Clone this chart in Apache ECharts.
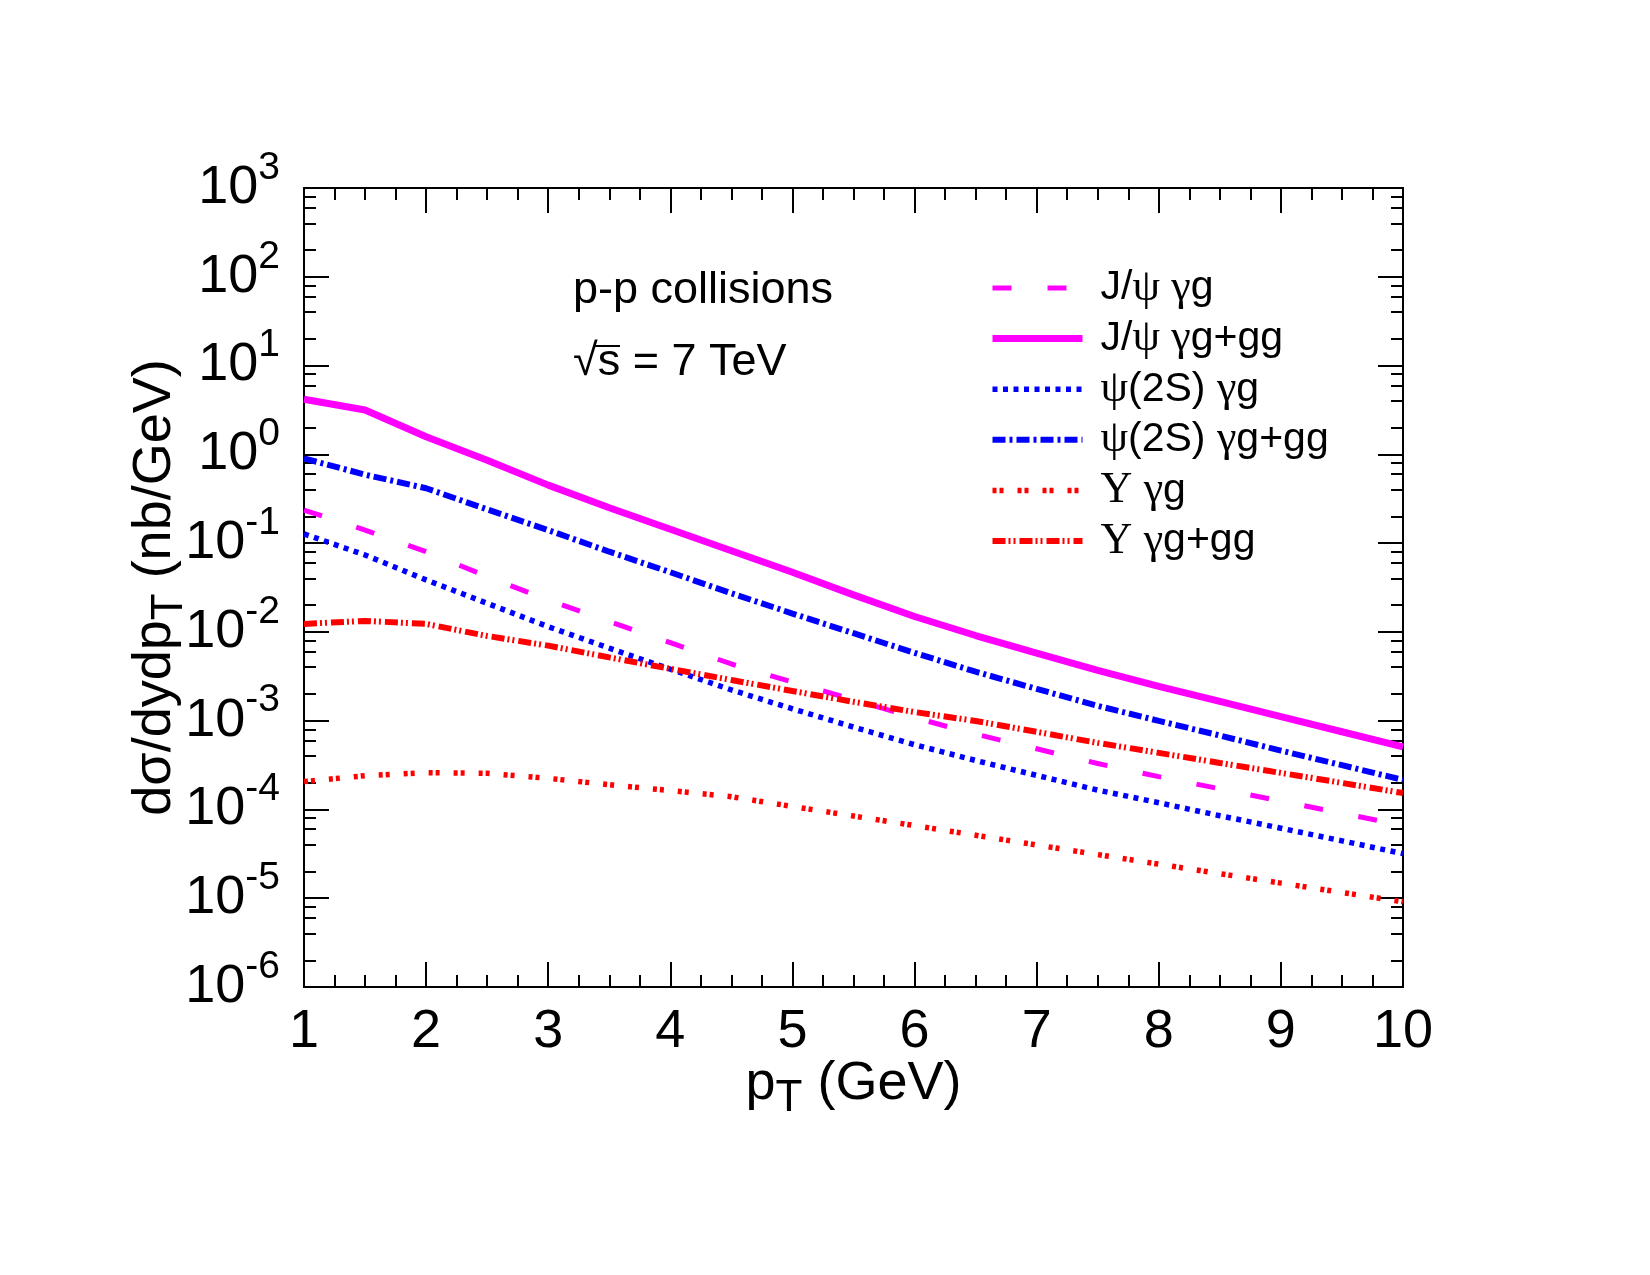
<!DOCTYPE html>
<html>
<head>
<meta charset="utf-8">
<script src="https://cdn.jsdelivr.net/npm/echarts@6/dist/echarts.min.js"></script>
<style>
  html, body { margin: 0; padding: 0; background: #fff; }
  #chart { width: 1650px; height: 1275px; }
</style>
</head>
<body>
<div id="chart"></div>
<script>
// pT grid (GeV)
const pT = [1, 1.5, 2, 2.5, 3, 3.5, 4, 4.5, 5, 5.5, 6, 6.5, 7, 7.5, 8, 8.5, 9, 9.5, 10];

// dsigma/dy dpT (nb/GeV)
const jpsiGammaG = [0.236, 0.14, 0.080, 0.042, 0.0228, 0.0131, 0.00755, 0.00435, 0.00272, 0.00172, 0.00108,
  7.05e-4, 4.82e-4, 3.29e-4, 2.34e-4, 1.71e-4, 1.24e-4, 9.06e-5, 6.6e-5];
const jpsiTotal = [4.17, 3.16, 1.58, 0.86, 0.45, 0.25, 0.143, 0.082, 0.047, 0.0261, 0.0149,
  0.0091, 0.00575, 0.00368, 0.00244, 0.00165, 0.00111, 7.5e-4, 5.06e-4];
const psi2sGammaG = [0.127, 0.0735, 0.0385, 0.021, 0.01145, 0.00656, 0.0038, 0.00222, 0.00136, 8.47e-4, 5.36e-4,
  3.56e-4, 2.42e-4, 1.65e-4, 1.19e-4, 8.5e-5, 6.15e-5, 4.43e-5, 3.18e-5];
const psi2sTotal = [0.90, 0.59, 0.415, 0.24, 0.14, 0.080, 0.047, 0.0272, 0.0161, 0.00966, 0.0058,
  0.00356, 0.00228, 0.00147, 9.95e-4, 6.8e-4, 4.6e-4, 3.15e-4, 2.15e-4];
const upsGammaG = [2.06e-4, 2.4e-4, 2.6e-4, 2.55e-4, 2.24e-4, 1.9e-4, 1.63e-4, 1.39e-4, 1.08e-4, 8.43e-5, 6.58e-5,
  5.12e-5, 3.98e-5, 3.1e-5, 2.42e-5, 1.89e-5, 1.48e-5, 1.16e-5, 9.1e-6];
const upsTotal = [0.0123, 0.0133, 0.0123, 0.0090, 0.0070, 0.00516, 0.00384, 0.00287, 0.00216, 0.00163, 0.00125,
  9.93e-4, 7.48e-4, 5.62e-4, 4.34e-4, 3.34e-4, 2.58e-4, 1.99e-4, 1.53e-4];

// axis ticks
const yExponents = [-6, -5, -4, -3, -2, -1, 0, 1, 2, 3];
const yMinorMantissas = [2, 4, 6, 8];

const seriesNames = ['J/ψ γg', 'J/ψ γg+gg', 'ψ(2S) γg', 'ψ(2S) γg+gg', 'Υ γg', 'Υ γg+gg'];

const chart = echarts.init(document.getElementById('chart'));

const yMinorTicks = [];
yExponents.slice(0, -1).forEach(e => {
  yMinorMantissas.forEach(m => yMinorTicks.push(e + Math.log10(m)));
});

const SANS = '"Liberation Sans", Arial, Helvetica, sans-serif';
const SERIF = '"Liberation Serif", "Times New Roman", serif';

// greek letters in the legend come from a symbol (serif) face
function legendRich(name) {
  let out = '';
  for (const ch of name) {
    if ('ψγΥ'.includes(ch)) out += '{g|' + ch + '}';
    else out += '{t|' + ch + '}';
  }
  return out;
}

function pairs(arr) {
  return pT.map((x, i) => [x, arr[i]]);
}

const styles = [
  { color: '#ff00ff', width: 5, type: [19, 36] },
  { color: '#ff00ff', width: 7, type: 'solid' },
  { color: '#0000ff', width: 5.5, type: [5, 5.5] },
  { color: '#0000ff', width: 6, type: [13, 4, 3, 4] },
  { color: '#ff0000', width: 5.5, type: [4, 3, 4, 14] },
  { color: '#ff0000', width: 6, type: [13, 3, 2, 3, 2, 4] }
];

function makeLine(i, data) {
  const s = styles[i];
  return {
    name: seriesNames[i],
    type: 'line',
    data: pairs(data),
    symbol: 'none',
    showSymbol: false,
    smooth: false,
    clip: true,
    color: s.color,
    itemStyle: { color: s.color },
    lineStyle: { color: s.color, width: s.width, type: s.type, cap: 'butt' },
    emphasis: { disabled: true },
    animation: false
  };
}

const majorTick = { show: true, inside: true, length: 25, lineStyle: { color: '#000', width: 2 } };

const yLabel = {
  show: true,
  margin: 24,
  showMinLabel: true,
  showMaxLabel: true,
  formatter: v => '{b|10}{s|' + Math.round(Math.log10(v)) + '}',
  rich: {
    b: { fontFamily: SANS, fontSize: 54, color: '#000', lineHeight: 79 },
    s: { fontFamily: SANS, fontSize: 39, color: '#000', lineHeight: 39, verticalAlign: 'top' }
  }
};

function logAxis(position, labels) {
  return {
    type: 'log',
    logBase: 10,
    position: position,
    min: 1e-6,
    max: 1e3,
    splitNumber: 9,
    axisLine: { show: true, lineStyle: { color: '#000', width: 2 } },
    axisTick: majorTick,
    minorTick: { show: false },
    splitLine: { show: false },
    axisLabel: labels ? yLabel : { show: false }
  };
}

function minorAxis(position) {
  return {
    type: 'value',
    position: position,
    min: -6,
    max: 3,
    axisLine: { show: false },
    axisTick: { show: true, inside: true, length: 12, customValues: yMinorTicks, lineStyle: { color: '#000', width: 2 } },
    axisLabel: { show: false },
    splitLine: { show: false }
  };
}

function xAxis(position, labels) {
  return {
    type: 'value',
    position: position,
    min: 1,
    max: 10,
    interval: 1,
    axisLine: { show: true, onZero: false, lineStyle: { color: '#000', width: 2 } },
    axisTick: majorTick,
    minorTick: { show: true, splitNumber: 4, length: 12, lineStyle: { color: '#000', width: 2 } },
    splitLine: { show: false },
    minorSplitLine: { show: false },
    axisLabel: labels ? {
      show: true, margin: 18, fontFamily: SANS, fontSize: 54, color: '#000',
      showMinLabel: true, showMaxLabel: true
    } : { show: false }
  };
}

// subscript T sits lower than the main text
const nameRich = {
  a: { fontFamily: SANS, fontSize: 54, color: '#000', lineHeight: 74 },
  t: { fontFamily: SANS, fontSize: 44, color: '#000', lineHeight: 16, verticalAlign: 'bottom' }
};

const xMain = xAxis('bottom', true);
xMain.name = '{a|p}{t|T}{a| (GeV)}';
xMain.nameLocation = 'middle';
xMain.nameGap = 60;
xMain.nameMoveOverlap = false;
xMain.nameTextStyle = { rich: nameRich };

const yMain = logAxis('left', true);
yMain.name = '{a|dσ/dydp}{t|T}{a| (nb/GeV)}';
yMain.nameLocation = 'middle';
yMain.nameRotate = 90;
yMain.nameGap = 112;
yMain.nameMoveOverlap = false;
yMain.nameTextStyle = { rich: nameRich };

const option = {
  backgroundColor: '#fff',
  animation: false,
  grid: {
    left: 304,
    top: 188,
    right: 247,
    bottom: 288,
    containLabel: false,
    outerBoundsMode: 'none'
  },
  xAxis: [xMain, xAxis('top', false)],
  yAxis: [yMain, logAxis('right', false), minorAxis('left'), minorAxis('right')],
  legend: {
    orient: 'vertical',
    left: 989,
    top: 266,
    padding: 0,
    itemWidth: 90,
    itemHeight: 4,
    itemGap: 6.6,
    selectedMode: false,
    data: seriesNames.map((n, i) => ({
      name: n,
      itemStyle: { opacity: 0, borderWidth: 0 },
      lineStyle: { width: styles[i].width, type: styles[i].type, color: styles[i].color, cap: 'butt' }
    })),
    formatter: legendRich,
    textStyle: {
      padding: [0, 0, 0, 13],
      lineHeight: 44,
      rich: {
        t: { fontFamily: SANS, fontSize: 41, color: '#000', lineHeight: 44 },
        g: { fontFamily: SERIF, fontSize: 44, color: '#000', lineHeight: 44 }
      }
    }
  },
  graphic: [
    {
      type: 'text',
      left: 573,
      top: 268,
      style: { text: 'p-p collisions', font: '45px ' + SANS, fill: '#000' }
    },
    {
      type: 'text',
      left: 573,
      top: 340,
      style: { text: '√s = 7 TeV', font: '45px ' + SANS, fill: '#000' }
    },
    {
      type: 'line',
      shape: { x1: 594, y1: 346, x2: 620, y2: 346 },
      style: { stroke: '#000', lineWidth: 2 }
    }
  ],
  series: [
    makeLine(0, jpsiGammaG),
    makeLine(1, jpsiTotal),
    makeLine(2, psi2sGammaG),
    makeLine(3, psi2sTotal),
    makeLine(4, upsGammaG),
    makeLine(5, upsTotal)
  ]
};

chart.setOption(option);
</script>
</body>
</html>
